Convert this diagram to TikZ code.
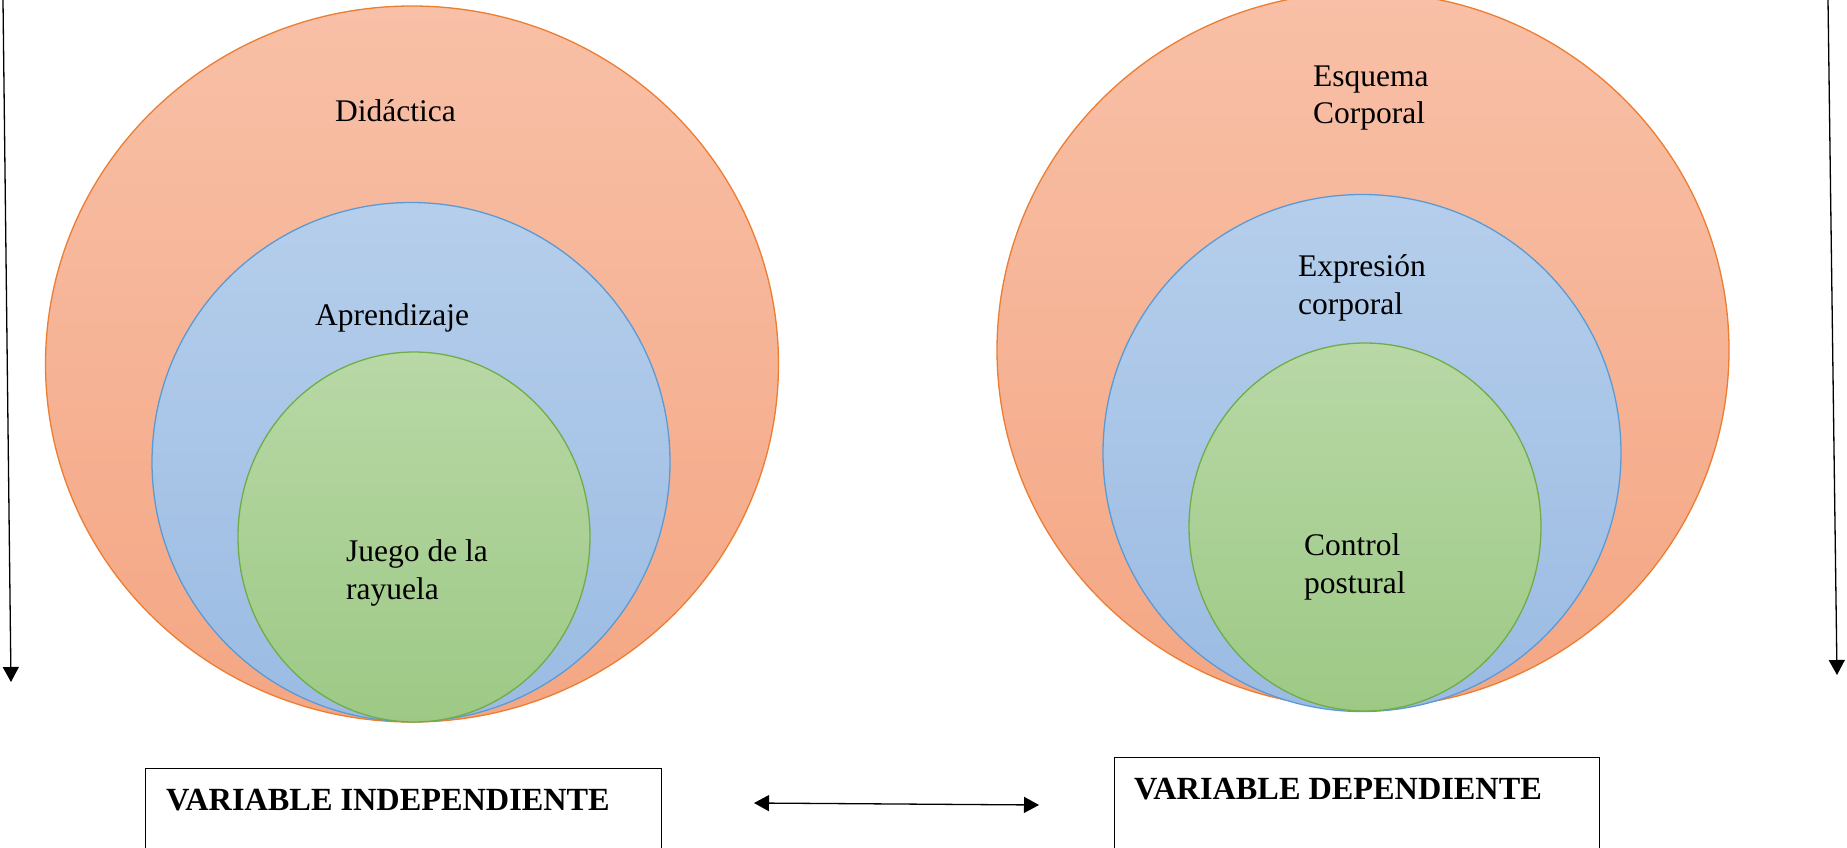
\documentclass[tikz,border=0pt]{standalone}
\usepackage{fontspec}
\setmainfont{Liberation Serif}
\usetikzlibrary{shapes.geometric,arrows.meta}
\definecolor{oTop}{RGB}{248,192,167}
\definecolor{oBot}{RGB}{244,166,131}
\definecolor{oLine}{RGB}{237,125,49}
\definecolor{bTop}{RGB}{181,206,235}
\definecolor{bBot}{RGB}{155,187,227}
\definecolor{bLine}{RGB}{91,155,213}
\definecolor{gTop}{RGB}{184,216,166}
\definecolor{gBot}{RGB}{157,201,133}
\definecolor{gLine}{RGB}{112,173,71}
\tikzset{
  orangecirc/.style={ellipse,inner sep=0pt,top color=oTop,bottom color=oBot,draw=oLine,line width=1.3pt},
  bluecirc/.style={ellipse,inner sep=0pt,top color=bTop,bottom color=bBot,draw=bLine,line width=1.3pt},
  greencirc/.style={ellipse,inner sep=0pt,top color=gTop,bottom color=gBot,draw=gLine,line width=1.3pt},
  lbl/.style={font=\fontsize{31.5}{37.5}\selectfont,inner sep=0pt,align=left},
  vtitle/.style={font=\fontsize{32.3}{37.5}\selectfont\bfseries,inner sep=0pt},
  varbox/.style={draw=black,line width=1.2pt,inner sep=0pt,anchor=north west},
  tip/.style={-{Triangle[length=15pt,width=16pt]},line width=1.3pt},
  dtip/.style={{Triangle[length=15pt,width=16pt]}-{Triangle[length=15pt,width=16pt]},line width=1.3pt}
}
\begin{document}
\begin{tikzpicture}[x=1pt,y=-1pt]
\useasboundingbox (0,0) rectangle (1847,848);
\clip (0,0) rectangle (1847,848);
% left circles
\node[orangecirc,minimum width=733pt,minimum height=716pt] (lo) at (412,364) {};
\node[bluecirc,minimum width=518pt,minimum height=519pt] (lb) at (411,462) {};
\node[greencirc,minimum width=352pt,minimum height=370pt] (lg) at (414,537) {};
% right circles
\node[orangecirc,minimum width=732pt,minimum height=716pt] (ro) at (1363,350) {};
\node[bluecirc,minimum width=518pt,minimum height=517pt] (rb) at (1362,453) {};
\node[greencirc,minimum width=352pt,minimum height=368pt] (rg) at (1365,527) {};
% labels
\node[lbl,anchor=base west] (t1) at (335,122) {Didáctica};
\node[lbl,anchor=base west] (t2) at (315,325) {Aprendizaje};
\node[lbl,anchor=base west] (t3) at (346,599) {Juego de la\\rayuela};
\node[lbl,anchor=base west] (t4) at (1313,124) {Esquema\\Corporal};
\node[lbl,anchor=base west] (t5) at (1298,314) {Expresión\\corporal};
\node[lbl,anchor=base west] (t6) at (1304,593) {Control\\postural};
% side arrows
\coordinate (la1) at (3,0);
\coordinate (la2) at (11,682);
\coordinate (ra1) at (1828,0);
\coordinate (ra2) at (1837,675);
\draw[tip] (la1) -- (la2);
\draw[tip] (ra1) -- (ra2);
% boxes
\node[varbox,minimum width=516pt,minimum height=120pt] (bi) at (145,768) {};
\node[vtitle,anchor=base west] (bit) at (166,810) {VARIABLE INDEPENDIENTE};
\node[varbox,minimum width=485pt,minimum height=130pt] (bd) at (1114,757) {};
\node[vtitle,anchor=base west] (bdt) at (1134,799) {VARIABLE DEPENDIENTE};
% double arrow
\coordinate (da1) at (754,803);
\coordinate (da2) at (1039,805);
\draw[dtip] (da1) -- (da2);
\end{tikzpicture}
\end{document}
